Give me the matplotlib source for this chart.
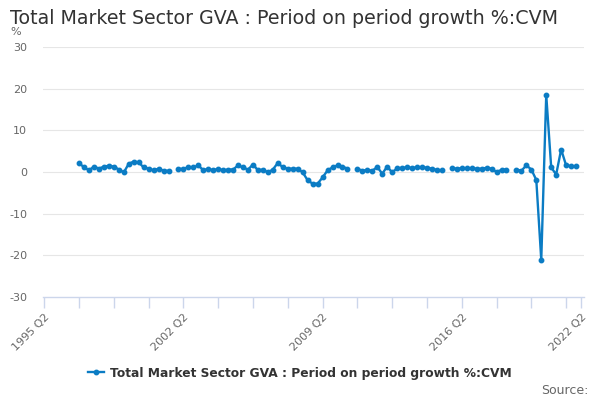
import numpy as np
import matplotlib
matplotlib.use("Agg")
import matplotlib.pyplot as plt
from matplotlib.lines import Line2D

plt.rcParams['font.family'] = ['DejaVu Sans']

# Quarters from 1995 Q2 to 2022 Q2
quarters = []
y, q = 1995, 2
while (y, q) <= (2022, 2):
    quarters.append(f"{y} Q{q}")
    q += 1
    if q > 4:
        q = 1
        y += 1

nan = np.nan
seg1 = [2.1, 1.15, 0.4, 1.3, 0.8, 1.3, 1.5, 1.3, 0.6, -0.1, 2.0, 2.5, 2.3, 1.1, 0.8, 0.4, 0.8, 0.3, 0.3]
seg2 = [0.8, 0.7, 1.2, 1.1, 1.6, 0.4, 0.8, 0.4, 0.8, 0.4, 0.6, 0.6, 1.6, 1.1, 0.6, 1.8, 0.4, 0.6, -0.1, 0.6,
        2.2, 1.1, 0.8, 0.8, 0.8, -0.1, -2.0, -2.8, -2.8, -1.3, 0.4, 1.1, 1.6, 1.3, 0.8]
seg3 = [0.8, 0.3, 0.5, 0.3, 1.2, -0.4, 1.3, -0.1, 0.9, 1.0, 1.1, 1.0, 1.1, 1.2, 1.0, 0.8, 0.5, 0.4]
seg4 = [0.9, 0.8, 0.9, 0.9, 0.9, 0.8, 0.8, 1.0, 0.8, 0.0, 0.5, 0.6]
seg5 = [0.6, 0.3, 1.6, 0.6, -1.9, -21.1, 18.5, 1.1, -0.6, 5.4, 1.6, 1.4, 1.4]

values = [nan] * 7 + seg1 + [nan] + seg2 + [nan] + seg3 + [nan] + seg4 + [nan] + seg5 + [nan]

series_name = "Total Market Sector GVA : Period on period growth %:CVM"
title = "Total Market Sector GVA : Period on period growth %:CVM"
label_quarters = ["1995 Q2", "2002 Q2", "2009 Q2", "2016 Q2", "2022 Q2"]
yticks = [-30, -20, -10, 0, 10, 20, 30]

fig = plt.figure(figsize=(6, 4), dpi=100)
ax = fig.add_axes([43.3 / 600, 1 - 297 / 400, (584 - 43.3) / 600, (297 - 47) / 400])

x = np.arange(len(quarters))
blue = '#0b7cc4'
ax.plot(x, values, color=blue, lw=1.7, marker='o', markersize=3.2, zorder=3,
        solid_joinstyle='round')

ax.set_xlim(-0.2, 108.6)
ax.set_ylim(-30, 30)

for v in yticks:
    if v == -30:
        continue
    ax.axhline(v, color='#e6e6e6', lw=0.8, zorder=1)

for s in ['top', 'right', 'left']:
    ax.spines[s].set_visible(False)
ax.spines['bottom'].set_color('#ccd6eb')
ax.spines['bottom'].set_linewidth(1)

tick_pos = list(range(0, 106, 7)) + [108]
ax.set_xticks(tick_pos)
ax.set_xticklabels([quarters[i] if quarters[i] in label_quarters else '' for i in tick_pos],
                   rotation=45, ha='right', rotation_mode='anchor', fontsize=8, color='#666666')
ax.tick_params(axis='x', length=8, color='#ccd6eb', width=1, pad=3)

ax.set_yticks(yticks)
ax.set_yticklabels([str(v) for v in yticks], fontsize=8, color='#666666')
ax.tick_params(axis='y', length=0, pad=11.5)

fig.text(10 / 600, 1 - 19 / 400, title, fontsize=13.7, color='#333333', va='center', ha='left')
fig.text(10 / 600, 1 - 32 / 400, '%', fontsize=8, color='#666666', va='center', ha='left')

handle = Line2D([0], [0], color=blue, lw=1.7, marker='o', markersize=3.2)
fig.legend([handle], [series_name], loc='center', bbox_to_anchor=(0.5, 1 - 373 / 400),
           frameon=False, prop={'weight': 'bold', 'size': 8.8}, labelcolor='#333333',
           handlelength=1.3, handletextpad=0.5)

fig.text(589 / 600, 1 - 391 / 400, 'Source:', fontsize=9, color='#666666', va='center', ha='right')

fig.savefig('out.png', dpi=100)
